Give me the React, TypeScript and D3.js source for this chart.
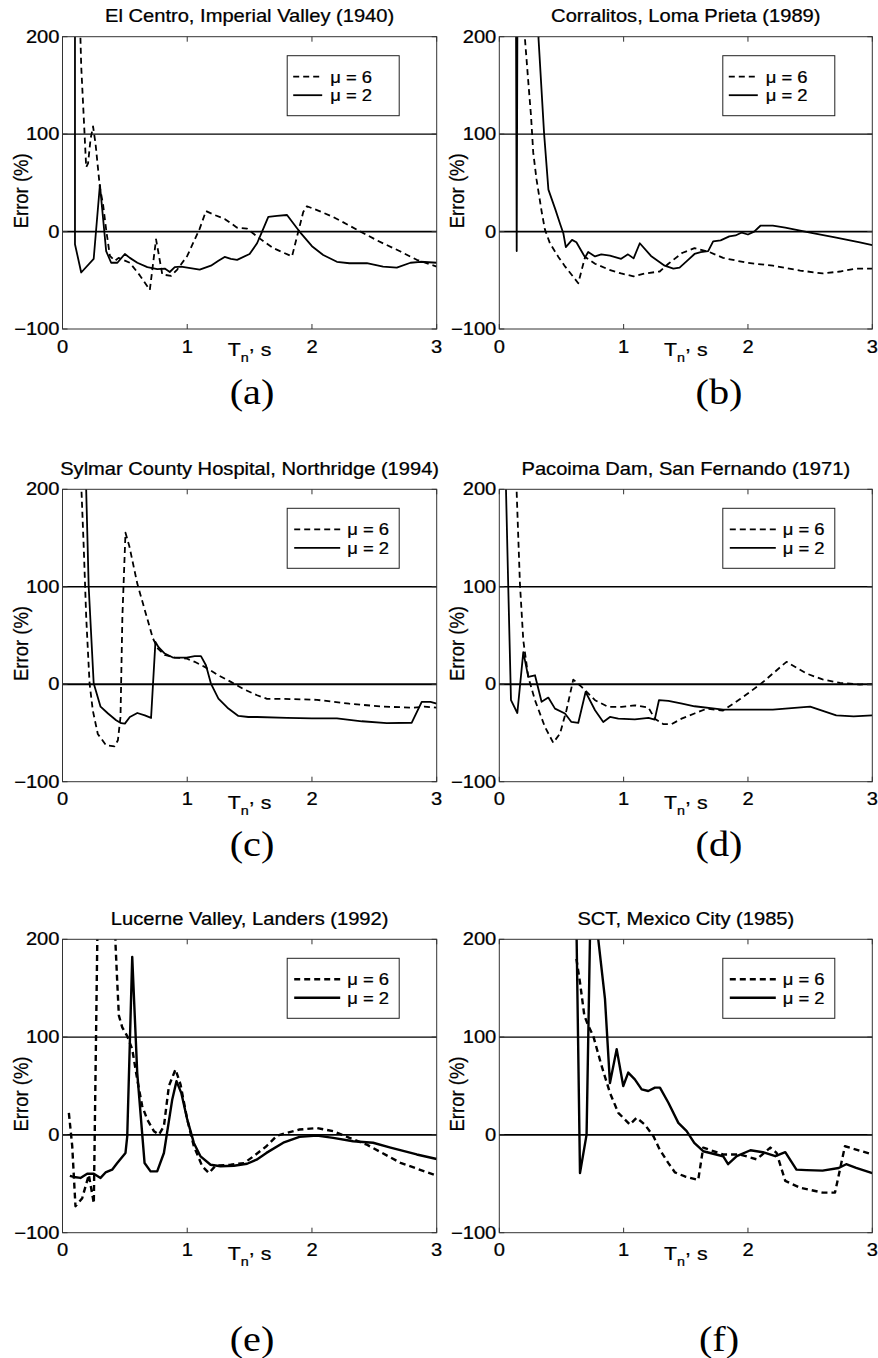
import React from 'react';
import * as d3 from 'd3';

type Pt = [number, number];

// ---------- texts ----------
const titles = [
  'El Centro, Imperial Valley (1940)',
  'Corralitos, Loma Prieta (1989)',
  'Sylmar County Hospital, Northridge (1994)',
  'Pacoima Dam, San Fernando (1971)',
  'Lucerne Valley, Landers (1992)',
  'SCT, Mexico City (1985)',
];
const panelLetters = ['(a)', '(b)', '(c)', '(d)', '(e)', '(f)'];
const legendLabels = ['μ = 6', 'μ = 2'];
const xTicks = [0, 1, 2, 3];
const yTicks = [-100, 0, 100, 200];
const yTickLabels = ['−100', '0', '100', '200'];
const refLines = [0, 100];

// ---------- data: [T_n (s), error (%)] ----------
const elCentroMu6: Pt[] = [
  [0.135, 240], [0.15, 170], [0.19, 66], [0.205, 70], [0.225, 95], [0.245, 108], [0.265, 90],
  [0.3, 45], [0.325, 28], [0.35, 2], [0.38, -25], [0.42, -30], [0.45, -27], [0.54, -32],
  [0.62, -45], [0.7, -60], [0.75, -8], [0.8, -44], [0.87, -45.5], [0.92, -39], [1.0, -25],
  [1.1, 3], [1.15, 21], [1.22, 17], [1.3, 13], [1.4, 4], [1.48, 3], [1.58, -7], [1.69, -17],
  [1.84, -25.5], [1.93, 20], [1.96, 26], [2.06, 21], [2.17, 15], [2.36, 2], [2.52, -9],
  [2.71, -20.5], [2.84, -29], [3.0, -36],
];
const elCentroMu2: Pt[] = [
  [0.1, 400], [0.1, -13], [0.15, -42], [0.25, -28], [0.3, 48], [0.35, -20], [0.39, -32],
  [0.44, -32], [0.5, -23], [0.54, -27], [0.6, -32], [0.68, -36.5], [0.76, -38.5], [0.82, -38],
  [0.86, -41.5], [0.9, -36.5], [0.95, -36], [1.0, -37], [1.1, -39], [1.19, -35], [1.25, -30],
  [1.3, -26], [1.35, -28], [1.4, -29], [1.5, -23], [1.56, -12], [1.6, 0], [1.65, 15],
  [1.72, 16], [1.8, 17], [1.9, 0], [2.0, -15], [2.09, -24], [2.2, -31], [2.3, -32.5],
  [2.44, -32.5], [2.57, -36], [2.68, -37], [2.79, -32], [2.87, -31], [3.0, -32],
];

const corralitosMu6: Pt[] = [
  [0.19, 300], [0.205, 200], [0.233, 154], [0.255, 119], [0.273, 81], [0.3, 53], [0.34, 21],
  [0.367, 2], [0.407, -12], [0.475, -26], [0.53, -36], [0.595, -46.5], [0.635, -53], [0.69, -26],
  [0.77, -33], [0.88, -39], [0.98, -43], [1.08, -46], [1.17, -43], [1.29, -41], [1.36, -33],
  [1.47, -22], [1.57, -17], [1.69, -21], [1.8, -27], [1.99, -32], [2.2, -35], [2.42, -40],
  [2.6, -43], [2.74, -41], [2.87, -38], [3.0, -38],
];
const corralitosMu2: Pt[] = [
  [0.13, 400], [0.14, -20], [0.15, 400], [0.3, 400], [0.315, 199], [0.36, 101], [0.395, 43],
  [0.45, 23], [0.49, 7.5], [0.515, -1.7], [0.535, -16], [0.585, -8.5], [0.62, -11], [0.665, -21],
  [0.69, -26.5], [0.715, -21], [0.77, -25.5], [0.82, -23.4], [0.89, -24.8], [0.98, -28],
  [1.035, -23.4], [1.08, -27.5], [1.13, -12], [1.22, -25], [1.33, -35], [1.4, -38], [1.45, -37],
  [1.51, -30], [1.57, -23], [1.62, -21], [1.68, -20], [1.72, -10], [1.78, -9], [1.85, -5],
  [1.9, -4], [1.95, -1], [2.0, -3], [2.05, 0], [2.1, 6], [2.2, 6], [2.3, 4], [2.5, -1],
  [2.7, -6], [2.9, -11], [3.0, -14],
];

const sylmarMu6: Pt[] = [
  [0.14, 300], [0.152, 199], [0.171, 138], [0.19, 69], [0.217, 1], [0.243, -27], [0.283, -51],
  [0.35, -62.7], [0.417, -63.7], [0.444, -57.5], [0.465, -33.6], [0.48, 69], [0.505, 155.5],
  [0.537, 141], [0.6, 103], [0.66, 76], [0.725, 47], [0.765, 36.6], [0.82, 30], [0.9, 27.4],
  [0.995, 26.4], [1.06, 23], [1.14, 17.8], [1.25, 9.2], [1.35, 2.4], [1.46, -5.5], [1.56, -11.3],
  [1.64, -15], [1.77, -15], [2.04, -16], [2.3, -20], [2.57, -23], [2.81, -24], [2.9, -23],
  [3.0, -24],
];
const sylmarMu2: Pt[] = [
  [0.18, 400], [0.19, 199], [0.21, 100], [0.25, 1], [0.305, -23], [0.365, -30], [0.43, -37],
  [0.47, -40], [0.5, -40.4], [0.54, -33.6], [0.6, -29.5], [0.66, -32], [0.71, -34.6],
  [0.745, 43.5], [0.77, 38], [0.82, 31.5], [0.885, 27.4], [0.995, 27.4], [1.06, 28.8],
  [1.11, 28.8], [1.15, 19.5], [1.19, 0.7], [1.25, -14.7], [1.33, -25], [1.41, -32.5],
  [1.49, -33.6], [1.56, -33.6], [1.8, -34.5], [2.0, -35], [2.2, -35], [2.4, -38], [2.6, -40],
  [2.8, -39.5], [2.88, -18], [2.95, -18], [3.0, -20],
];

const pacoimaMu6: Pt[] = [
  [0.13, 300], [0.14, 196], [0.166, 103], [0.193, 45], [0.233, 7.5], [0.287, -16.4],
  [0.367, -43.8], [0.434, -60], [0.488, -50.7], [0.54, -26.7], [0.595, 4.8], [0.662, -2.7],
  [0.77, -16.4], [0.877, -23.3], [0.984, -23.3], [1.09, -21.6], [1.2, -24], [1.25, -35.3],
  [1.32, -41], [1.386, -41], [1.466, -35.3], [1.57, -30], [1.67, -25], [1.8, -27], [1.94, -15],
  [2.1, 0], [2.31, 23], [2.47, 11], [2.6, 5], [2.74, 1.4], [2.9, -0.3], [3.0, 0],
];
const pacoimaMu2: Pt[] = [
  [0.045, 400], [0.054, 199], [0.072, 100], [0.094, -16.4], [0.145, -29.5], [0.193, 33],
  [0.233, 7.5], [0.287, 9.2], [0.34, -18], [0.394, -13.7], [0.448, -25], [0.528, -30],
  [0.58, -38.7], [0.635, -39.7], [0.694, -7.9], [0.77, -26.7], [0.836, -38.7], [0.89, -33.6],
  [0.957, -35.3], [1.09, -36], [1.2, -34.6], [1.25, -36.3], [1.284, -16.4], [1.36, -17],
  [1.47, -20], [1.57, -22.6], [1.8, -26], [2.2, -26], [2.5, -23], [2.71, -32], [2.85, -33],
  [3.0, -32],
];

const lucerneMu6: Pt[] = [
  [0.051, 22.6], [0.078, -11.6], [0.104, -73], [0.158, -64.7], [0.211, -40.8], [0.251, -70],
  [0.3, 400], [0.4, 350], [0.425, 195], [0.439, 156], [0.452, 122], [0.479, 110], [0.519, 101],
  [0.559, 87.7], [0.599, 56.8], [0.639, 29.5], [0.679, 15.8], [0.733, 3.8], [0.773, 0.3],
  [0.813, 8.9], [0.853, 50], [0.906, 67], [0.946, 51.7], [1.0, 15.8], [1.053, -11.6],
  [1.12, -32], [1.174, -39], [1.227, -31.5], [1.348, -30.5], [1.455, -28.8], [1.53, -22],
  [1.635, -11.6], [1.72, -0.7], [1.9, 5.5], [2.04, 7], [2.17, 3.8], [2.3, -3], [2.44, -10],
  [2.71, -28.6], [3.0, -41.6],
];
const lucerneMu2: Pt[] = [
  [0.059, -41.8], [0.091, -43], [0.144, -44], [0.198, -39.7], [0.251, -39.7], [0.305, -44],
  [0.345, -38.4], [0.398, -35.6], [0.439, -28.8], [0.505, -18.5], [0.519, -1.4], [0.559, 182],
  [0.599, 63.7], [0.658, -28.8], [0.706, -37.3], [0.759, -37.3], [0.813, -18.5], [0.88, 36.3],
  [0.914, 55], [0.952, 43], [1.0, 15.8], [1.053, -8.2], [1.107, -22], [1.187, -30.5],
  [1.267, -32], [1.374, -31.5], [1.48, -29.5], [1.556, -25.3], [1.635, -18.4], [1.77, -8],
  [1.9, -2], [2.04, -0.7], [2.17, -3], [2.33, -6.5], [2.49, -8], [2.63, -13], [2.84, -20],
  [3.0, -24.6],
];

const sctMu6: Pt[] = [
  [0.62, 180], [0.649, 156], [0.684, 122], [0.716, 111.6], [0.756, 101], [0.823, 70.5],
  [0.89, 43], [0.957, 22.6], [1.01, 15.8], [1.05, 10.6], [1.104, 17.5], [1.17, 10.6],
  [1.24, -1.4], [1.29, -15], [1.36, -28.8], [1.413, -38.4], [1.493, -42.5], [1.6, -46],
  [1.64, -13], [1.8, -20], [1.935, -20], [2.07, -25], [2.18, -13], [2.23, -18.4], [2.3, -47],
  [2.42, -54], [2.6, -59], [2.7, -59], [2.78, -11.6], [2.87, -15], [3.0, -20],
];
const sctMu2: Pt[] = [
  [0.621, 400], [0.622, 200], [0.649, -39], [0.702, 0.3], [0.729, 200], [0.735, 300],
  [0.79, 300], [0.796, 200], [0.85, 139], [0.89, 53], [0.944, 87.7], [0.997, 50], [1.037, 63.7],
  [1.09, 56.8], [1.145, 46.6], [1.198, 44.9], [1.252, 48.3], [1.292, 48.3], [1.36, 32.9],
  [1.44, 12.3], [1.507, 3.8], [1.568, -8.2], [1.64, -16.7], [1.8, -21.8], [1.84, -30],
  [1.91, -21.8], [2.02, -15.7], [2.12, -17.7], [2.22, -21.8], [2.3, -17.7], [2.39, -35.5],
  [2.47, -36], [2.6, -36.5], [2.73, -33.8], [2.79, -30], [2.87, -33.8], [3.0, -39],
];

const seriesMu6 = [elCentroMu6, corralitosMu6, sylmarMu6, pacoimaMu6, lucerneMu6, sctMu6];
const seriesMu2 = [elCentroMu2, corralitosMu2, sylmarMu2, pacoimaMu2, lucerneMu2, sctMu2];

// ---------- layout ----------
const SX = 1.15; // horizontal stretch of the scanned lettering
const COLS: [number, number][] = [[62.5, 436.7], [499.3, 872.3]];
const ROWS: [number, number][] = [[36.7, 329], [489.3, 781.7], [939.3, 1232.7]];
const LETTER_Y = [404, 856, 1351];
const LETTER_X = [252, 719];
const FS = 17.5;
const LFS = 16;

function SText(props: {
  x: number; y: number; anchor?: string; size?: number; family?: string; children: React.ReactNode;
}) {
  const { x, y, anchor = 'start', size = FS, family, children } = props;
  return (
    <text
      transform={`translate(${x},${y}) scale(${SX},1)`}
      textAnchor={anchor}
      fontSize={size}
      fontFamily={family}
      fill="#000"
      stroke="#000"
      strokeWidth={0.25}
    >
      {children}
    </text>
  );
}

function Panel({ i }: { i: number }) {
  const col = i % 2;
  const row = Math.floor(i / 2);
  const [x0, x1] = COLS[col];
  const [yt, yb] = ROWS[row];
  const x = d3.scaleLinear().domain([0, 3]).range([x0, x1]);
  const y = d3.scaleLinear().domain([-100, 200]).range([yb, yt]);
  const line = d3.line<Pt>().x((d) => x(d[0])).y((d) => y(d[1]));
  const lw = row === 2 ? 2.4 : 1.8;
  const clipId = `clip${i}`;
  const longSample = i >= 2;
  const boxW = 112;
  const boxH = 60;
  const boxX = x1 - 37.5 - boxW;
  const boxY = yt + 19;
  const sx0 = boxX + (longSample ? 7 : 6);
  const sx1 = boxX + (longSample ? 53 : 35);
  const tx = boxX + (longSample ? 60 : 43);
  const cx = (x0 + x1) / 2;
  const r1 = boxY + 21;
  const r2 = boxY + 39.5;

  return (
    <g>
      <defs>
        <clipPath id={clipId}>
          <rect x={x0} y={yt} width={x1 - x0} height={yb - yt} />
        </clipPath>
      </defs>
      {/* title */}
      <SText x={cx} y={yt - 14.5} anchor="middle">{titles[i]}</SText>
      {/* reference lines */}
      {refLines.map((v) => (
        <line key={v} x1={x0} x2={x1} y1={y(v)} y2={y(v)} stroke="#000" strokeWidth={v === 0 ? 1.8 : 1.3} />
      ))}
      {/* data */}
      <g clipPath={`url(#${clipId})`}>
        <path d={line(seriesMu6[i]) || ''} fill="none" stroke="#000" strokeWidth={lw}
          strokeDasharray="6,4" strokeLinejoin="round" />
        <path d={line(seriesMu2[i]) || ''} fill="none" stroke="#000" strokeWidth={lw}
          strokeLinejoin="round" />
      </g>
      {/* frame */}
      <rect x={x0} y={yt} width={x1 - x0} height={yb - yt} fill="none" stroke="#333" strokeWidth={1} />
      {xTicks.map((v) => (
        <g key={`xt${v}`}>
          <line x1={x(v)} x2={x(v)} y1={yb} y2={yb - 5} stroke="#333" strokeWidth={1} />
          <line x1={x(v)} x2={x(v)} y1={yt} y2={yt + 5} stroke="#333" strokeWidth={1} />
          <SText x={x(v)} y={yb + 23.5} anchor="middle">{String(v)}</SText>
        </g>
      ))}
      {yTicks.map((v, k) => (
        <g key={`yt${v}`}>
          <line x1={x0} x2={x0 + 5} y1={y(v)} y2={y(v)} stroke="#333" strokeWidth={1} />
          <line x1={x1} x2={x1 - 5} y1={y(v)} y2={y(v)} stroke="#333" strokeWidth={1} />
          <SText x={x0 - 3} y={y(v) + 6} anchor="end">{yTickLabels[k]}</SText>
        </g>
      ))}
      {/* axis labels */}
      <text
        transform={`translate(${x0 - 35},${(yt + yb) / 2 + 8}) rotate(-90) scale(1,1.1)`}
        textAnchor="middle" fontSize={18.5} fill="#000" stroke="#000" strokeWidth={0.25}
      >
        Error (%)
      </text>
      <text
        transform={`translate(${cx},${yb + 27}) scale(${SX},1)`}
        textAnchor="middle" fontSize={FS + 1} fill="#000" stroke="#000" strokeWidth={0.25}
      >
        T<tspan fontSize={12.5} dy={6}>n</tspan>
        <tspan dy={-11}>,</tspan>
        <tspan dy={5}> s</tspan>
      </text>
      {/* legend */}
      <rect x={boxX} y={boxY} width={boxW} height={boxH} fill="#fff" stroke="#222" strokeWidth={1} />
      <line x1={sx0} x2={sx1} y1={r1} y2={r1} stroke="#000" strokeWidth={lw} strokeDasharray="6,4" />
      <line x1={sx0} x2={sx1} y1={r2} y2={r2} stroke="#000" strokeWidth={lw} />
      <SText x={tx} y={r1 + 6} size={LFS}>{legendLabels[0]}</SText>
      <SText x={tx} y={r2 + 6} size={LFS}>{legendLabels[1]}</SText>
      {/* panel letter */}
      <text
        transform={`translate(${LETTER_X[col]},${LETTER_Y[row]}) scale(${SX},1)`}
        textAnchor="middle" fontSize={35} fill="#000"
        fontFamily="'Liberation Serif', 'Times New Roman', serif"
      >
        {panelLetters[i]}
      </text>
    </g>
  );
}

export default function App() {
  return (
    <div style={{ position: 'absolute', left: 0, top: 0 }}>
      <svg width={878} height={1358} style={{ display: 'block', background: '#fff' }}
        fontFamily="'Liberation Sans', Arial, Helvetica, sans-serif">
        <rect x={0} y={0} width={878} height={1358} fill="#fff" />
        {titles.map((_, i) => <Panel key={i} i={i} />)}
      </svg>
    </div>
  );
}
